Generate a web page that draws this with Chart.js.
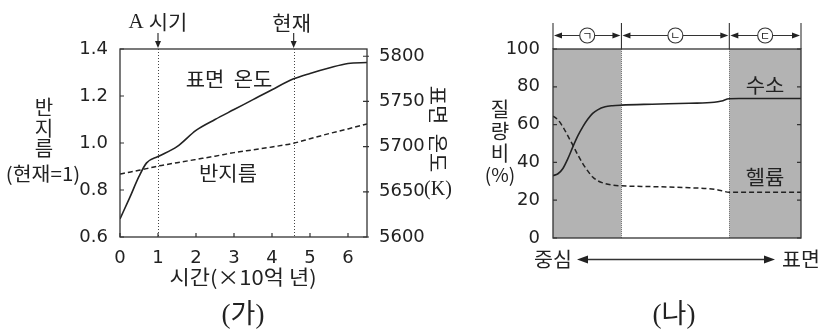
<!DOCTYPE html>
<html>
<head>
<meta charset="utf-8">
<script src="https://cdn.jsdelivr.net/npm/chart.js@4/dist/chart.umd.min.js"></script>
<style>
  body { margin: 0; background: #fff; }
  #wrap { position: relative; width: 834px; height: 332px; }
  #left { position: absolute; left: 0; top: 0; }
  #right { position: absolute; left: 460px; top: 0; }
</style>
</head>
<body>
<div id="wrap">
  <canvas id="left" width="460" height="332"></canvas>
  <canvas id="right" width="374" height="332"></canvas>
</div>
<script>
// (가) time since the Sun formed (x 10^9 yr)
const timeGyr = [0, 0.25, 0.5, 0.7, 1, 1.5, 2, 2.5, 3, 3.5, 4, 4.57, 5, 5.5, 6, 6.5];
const radiusRatio = [0.868, 0.876, 0.884, 0.891, 0.902, 0.916, 0.93, 0.944, 0.959, 0.971, 0.983, 0.999, 1.018, 1.04, 1.06, 1.081];
const surfaceTempK = [5620, 5643, 5667, 5682, 5689, 5700, 5718, 5730, 5741, 5752, 5763, 5775, 5781, 5787, 5792, 5793];
const radiusTicks = [0.6, 0.8, 1.0, 1.2, 1.4];
const tempTicks = [5600, 5650, 5700, 5750, 5800];
const timeTicks = [0, 1, 2, 3, 4, 5, 6];
const markTimes = [1, 4.57];
const markLabels = ['A 시기', '현재'];

// (나) position from centre (0) to surface (100)
const depthPos = [0, 2, 4, 6, 8, 10, 12, 14, 16, 18, 21, 24, 27.6, 40, 55, 65, 68, 71, 75, 100];
const hydrogenPct = [33, 34, 36.8, 42, 48.2, 54, 58.8, 62.8, 65.9, 67.8, 69.4, 70, 70.3, 70.8, 71.3, 71.8, 72.5, 73.7, 73.8, 73.8];
const heliumPct = [64.5, 62.5, 58.8, 54, 49.1, 44, 39.4, 35.5, 32.3, 30.3, 28.8, 28, 27.6, 27.2, 26.6, 25.8, 25, 24.2, 24.2, 24.2];
const massTicks = [0, 20, 40, 60, 80, 100];
const zoneEdges = [0, 27.6, 71.1, 100];
const zoneNames = ['ㄱ', 'ㄴ', 'ㄷ'];
const zoneShaded = [true, false, true];

const KR = "'Noto Sans CJK KR', sans-serif";
const NUM = "'DejaVu Sans', sans-serif";
const SERIF = "'Liberation Serif', 'Noto Sans CJK KR', serif";
const INK = '#222';
const KR20 = '20px ' + KR;

Chart.defaults.font.family = NUM;
Chart.defaults.font.size = 18;
Chart.defaults.color = INK;

function pts(xs, ys) {
  return xs.map(function (x, i) { return { x: x, y: ys[i] }; });
}
// sx widens the glyphs a little, like the original's gothic face
function text(ctx, s, x, y, font, align, sx) {
  sx = sx || 1;
  ctx.save();
  ctx.translate(x, y);
  ctx.scale(sx, 1);
  ctx.font = font;
  ctx.textAlign = align || 'center';
  ctx.textBaseline = 'middle';
  ctx.fillStyle = INK;
  ctx.fillText(s, 0, 0);
  ctx.restore();
}
function tri(ctx, x1, y1, x2, y2, x3, y3) {
  ctx.beginPath();
  ctx.moveTo(x1, y1); ctx.lineTo(x2, y2); ctx.lineTo(x3, y3);
  ctx.closePath();
  ctx.fill();
}
function box(ctx, a) {
  ctx.save();
  ctx.strokeStyle = '#333';
  ctx.lineWidth = 1.3;
  ctx.strokeRect(a.left, a.top, a.right - a.left, a.bottom - a.top);
  ctx.restore();
}
function fixedTicks(values) {
  return function (scale) { scale.ticks = values.map(function (v) { return { value: v }; }); };
}

const leftDecor = {
  id: 'leftDecor',
  beforeDatasetsDraw(chart) {
    const ctx = chart.ctx, a = chart.chartArea, x = chart.scales.x;
    ctx.save();
    ctx.strokeStyle = '#444';
    ctx.lineWidth = 1;
    ctx.setLineDash([1, 2]);
    markTimes.forEach(function (t) {
      const px = Math.round(x.getPixelForValue(t)) + 0.5;
      ctx.beginPath(); ctx.moveTo(px, a.top); ctx.lineTo(px, a.bottom); ctx.stroke();
    });
    ctx.restore();
  },
  afterDraw(chart) {
    const ctx = chart.ctx, a = chart.chartArea;
    const x = chart.scales.x, y = chart.scales.y, y1 = chart.scales.y1;
    box(ctx, a);
    ctx.save();
    ctx.strokeStyle = '#333';
    ctx.fillStyle = INK;
    ctx.lineWidth = 1.2;
    ctx.beginPath();
    timeTicks.forEach(function (t) {
      const px = x.getPixelForValue(t);
      ctx.moveTo(px, a.bottom); ctx.lineTo(px, a.bottom - 4);
    });
    radiusTicks.forEach(function (v) {
      const py = y.getPixelForValue(v);
      ctx.moveTo(a.left, py); ctx.lineTo(a.left + 4, py);
    });
    tempTicks.forEach(function (v) {
      const py = y1.getPixelForValue(v);
      ctx.moveTo(a.right - 4, py); ctx.lineTo(a.right + 2, py);
    });
    ctx.stroke();
    // arrows to the marked times
    markTimes.forEach(function (t) {
      const px = x.getPixelForValue(t);
      ctx.beginPath(); ctx.moveTo(px, 33); ctx.lineTo(px, 44); ctx.stroke();
      tri(ctx, px - 3, 41, px + 3, 41, px, 48);
    });
    ctx.restore();
    text(ctx, 'A', 136, 22, '21px ' + SERIF);
    text(ctx, '시기', 168, 22, KR20, 'center', 1.05);
    text(ctx, markLabels[1], x.getPixelForValue(markTimes[1]) - 2, 23, KR20, 'center', 1.05);
    // curve labels
    text(ctx, '표면  온도', 229, 79, KR20, 'center', 1.05);
    text(ctx, '반지름', 228, 173, KR20, 'center', 1.05);
    // left title, stacked
    text(ctx, '반', 44, 107, KR20);
    text(ctx, '지', 44, 128, KR20);
    text(ctx, '름', 44, 148, KR20);
    text(ctx, '(현재=1)', 43, 174, '19px ' + KR, 'center', 1.08);
    // right title, rotated
    ctx.save();
    ctx.translate(438, 129);
    ctx.rotate(Math.PI / 2);
    text(ctx, '표면  온도', 0, 0, KR20, 'center', 1.05);
    ctx.restore();
    text(ctx, '(K)', 438, 190, '20px ' + SERIF);
    text(ctx, '시간(×10억 년)', 243, 277, KR20, 'center', 1.1);
    text(ctx, '(가)', 243, 316, '27px ' + SERIF);
  }
};

new Chart(document.getElementById('left'), {
  type: 'line',
  data: {
    datasets: [{
      label: '반지름',
      data: pts(timeGyr, radiusRatio),
      yAxisID: 'y',
      borderColor: INK,
      borderWidth: 1.5,
      borderDash: [5, 3],
      pointRadius: 0,
      cubicInterpolationMode: 'monotone'
    }, {
      label: '표면 온도',
      data: pts(timeGyr, surfaceTempK),
      yAxisID: 'y1',
      borderColor: INK,
      borderWidth: 1.6,
      pointRadius: 0,
      cubicInterpolationMode: 'monotone'
    }]
  },
  options: {
    responsive: false,
    animation: false,
    layout: { padding: { top: 49, left: 0, right: 0, bottom: 0 } },
    plugins: { legend: { display: false }, tooltip: { enabled: false } },
    scales: {
      x: {
        type: 'linear', min: 0, max: 6.5,
        grid: { display: false }, border: { display: false },
        afterBuildTicks: fixedTicks(timeTicks),
        ticks: { padding: 3, callback: function (v) { return String(v); } },
        afterFit: function (s) { s.height = 95; }
      },
      y: {
        position: 'left', min: 0.6, max: 1.4,
        grid: { display: false }, border: { display: false },
        afterBuildTicks: fixedTicks(radiusTicks),
        ticks: { padding: 4, callback: function (v) { return v.toFixed(1); } },
        afterFit: function (s) { s.width = 120; }
      },
      y1: {
        position: 'right', min: 5600, max: 5808,
        grid: { display: false }, border: { display: false },
        afterBuildTicks: fixedTicks(tempTicks),
        ticks: { padding: 4, callback: function (v) { return String(v); } },
        afterFit: function (s) { s.width = 93; }
      }
    }
  },
  plugins: [leftDecor]
});

const rightDecor = {
  id: 'rightDecor',
  beforeDatasetsDraw(chart) {
    const ctx = chart.ctx, a = chart.chartArea, x = chart.scales.x;
    ctx.save();
    for (let i = 0; i < zoneNames.length; i++) {
      if (!zoneShaded[i]) continue;
      const x0 = x.getPixelForValue(zoneEdges[i]), x1 = x.getPixelForValue(zoneEdges[i + 1]);
      ctx.fillStyle = '#b3b3b3';
      ctx.fillRect(x0, a.top, x1 - x0, a.bottom - a.top);
    }
    ctx.strokeStyle = '#777';
    ctx.lineWidth = 1;
    ctx.setLineDash([1, 1]);
    [zoneEdges[1], zoneEdges[2]].forEach(function (v) {
      const px = Math.round(x.getPixelForValue(v)) + 0.5;
      ctx.beginPath(); ctx.moveTo(px, a.top); ctx.lineTo(px, a.bottom); ctx.stroke();
    });
    ctx.restore();
  },
  afterDraw(chart) {
    const ctx = chart.ctx, a = chart.chartArea, x = chart.scales.x, y = chart.scales.y;
    box(ctx, a);
    ctx.save();
    ctx.strokeStyle = '#333';
    ctx.fillStyle = INK;
    ctx.lineWidth = 1.2;
    ctx.beginPath();
    massTicks.forEach(function (v) {
      const py = y.getPixelForValue(v);
      ctx.moveTo(a.left, py); ctx.lineTo(a.left + 4, py);
      ctx.moveTo(a.right - 4, py); ctx.lineTo(a.right, py);
    });
    ctx.stroke();
    // zone brackets above the plot
    const ay = 35.5;
    ctx.lineWidth = 1.1;
    zoneEdges.forEach(function (v) {
      const px = x.getPixelForValue(v);
      ctx.beginPath(); ctx.moveTo(px, 23); ctx.lineTo(px, a.top); ctx.stroke();
    });
    for (let i = 0; i < zoneNames.length; i++) {
      const x0 = x.getPixelForValue(zoneEdges[i]), x1 = x.getPixelForValue(zoneEdges[i + 1]);
      const cx = (x0 + x1) / 2, r = 7.5;
      ctx.beginPath();
      ctx.moveTo(x0 + 7, ay); ctx.lineTo(cx - r, ay);
      ctx.moveTo(cx + r, ay); ctx.lineTo(x1 - 7, ay);
      ctx.stroke();
      tri(ctx, x0 + 1, ay, x0 + 9, ay - 3, x0 + 9, ay + 3);
      tri(ctx, x1 - 1, ay, x1 - 9, ay - 3, x1 - 9, ay + 3);
      ctx.beginPath(); ctx.arc(cx, ay, r, 0, Math.PI * 2); ctx.stroke();
      text(ctx, zoneNames[i], cx, ay + 0.5, '11px ' + KR);
    }
    // centre <-> surface arrow
    const by = 259.5, bx0 = 117, bx1 = 315;
    ctx.lineWidth = 1.3;
    ctx.beginPath(); ctx.moveTo(bx0 + 8, by); ctx.lineTo(bx1 - 8, by); ctx.stroke();
    tri(ctx, bx0, by, bx0 + 11, by - 4, bx0 + 11, by + 4);
    tri(ctx, bx1, by, bx1 - 11, by - 4, bx1 - 11, by + 4);
    ctx.restore();
    text(ctx, '중심', 112, 259, KR20, 'right', 1.03);
    text(ctx, '표면', 322, 259, KR20, 'left', 1.03);
    text(ctx, '수소', 305, 85, KR20, 'center', 1.05);
    text(ctx, '헬륨', 305, 177, KR20, 'center', 1.05);
    text(ctx, '질', 40, 109, KR20);
    text(ctx, '량', 40, 131, KR20);
    text(ctx, '비', 40, 153, KR20);
    text(ctx, '(%)', 40, 175, '19px ' + KR);
    text(ctx, '(나)', 214, 316, '27px ' + SERIF);
  }
};

new Chart(document.getElementById('right'), {
  type: 'line',
  data: {
    datasets: [{
      label: '수소',
      data: pts(depthPos, hydrogenPct),
      borderColor: INK,
      borderWidth: 1.6,
      pointRadius: 0,
      cubicInterpolationMode: 'monotone'
    }, {
      label: '헬륨',
      data: pts(depthPos, heliumPct),
      borderColor: INK,
      borderWidth: 1.5,
      borderDash: [5, 3],
      pointRadius: 0,
      cubicInterpolationMode: 'monotone'
    }]
  },
  options: {
    responsive: false,
    animation: false,
    layout: { padding: { top: 49, left: 0, right: 33, bottom: 94 } },
    plugins: { legend: { display: false }, tooltip: { enabled: false } },
    scales: {
      x: { type: 'linear', min: 0, max: 100, display: false },
      y: {
        min: 0, max: 100,
        grid: { display: false }, border: { display: false },
        afterBuildTicks: fixedTicks(massTicks),
        ticks: { padding: 5 },
        afterFit: function (s) { s.width = 93; }
      }
    }
  },
  plugins: [rightDecor]
});
</script>
</body>
</html>
